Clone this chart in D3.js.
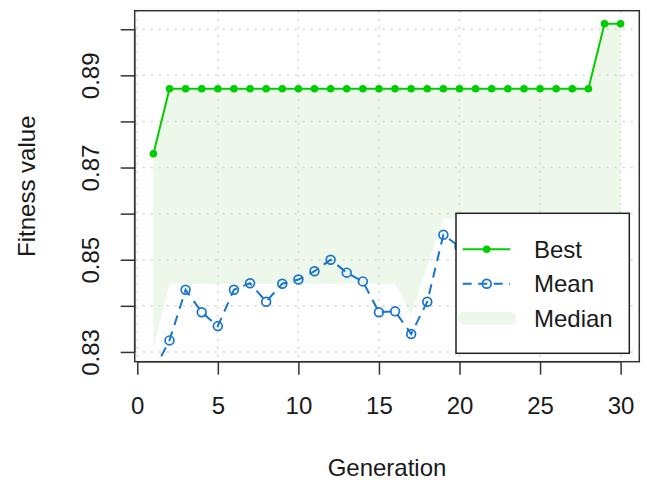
<!DOCTYPE html>
<html lang="en">
<head>
    <meta charset="UTF-8">
    <title>GA fitness by generation</title>
    <script src="https://d3js.org/d3.v7.min.js" charset="utf-8"></script>
    <style>
        body, html {
            margin: 0;
            padding: 0;
            background: #fff;
            overflow: hidden;
        }
        text {
            font-family: "Liberation Sans", Arial, sans-serif;
            fill: #1a1a1a;
        }
    </style>
</head>
<body>
    <svg id="chart"></svg>

    <script>
        // data
        const generation = [1, 2, 3, 4, 5, 6, 7, 8, 9, 10, 11, 12, 13, 14, 15,
                            16, 17, 18, 19, 20, 21, 22, 23, 24, 25, 26, 27, 28, 29, 30];
        const best = [0.8730, 0.8871, 0.8871, 0.8871, 0.8871, 0.8871, 0.8871, 0.8871, 0.8871, 0.8871,
                      0.8871, 0.8871, 0.8871, 0.8871, 0.8871, 0.8871, 0.8871, 0.8871, 0.8871, 0.8871,
                      0.8871, 0.8871, 0.8871, 0.8871, 0.8871, 0.8871, 0.8871, 0.8871, 0.9012, 0.9012];
        const mean = [0.8258, 0.8325, 0.8435, 0.8386, 0.8356, 0.8435, 0.8449, 0.8409, 0.8448, 0.8457,
                      0.8475, 0.8500, 0.8472, 0.8453, 0.8386, 0.8388, 0.8339, 0.8409, 0.8554, 0.8528,
                      0.8532, 0.8545, 0.8521, 0.8538, 0.8550, 0.8529, 0.8541, 0.8535, 0.8562, 0.8548];
        const median = [0.8307, 0.8448, 0.8448, 0.8448, 0.8448, 0.8448, 0.8448, 0.8448, 0.8448, 0.8448,
                        0.8448, 0.8448, 0.8448, 0.8448, 0.8448, 0.8448, 0.8379, 0.8485, 0.8589, 0.8589,
                        0.8589, 0.8589, 0.8589, 0.8589, 0.8589, 0.8589, 0.8589, 0.8589, 0.8589, 0.8589];
        const xTicks = [0, 5, 10, 15, 20, 25, 30];
        const yTicks = [0.83, 0.84, 0.85, 0.86, 0.87, 0.88, 0.89, 0.90];
        const yLabels = [0.83, 0.85, 0.87, 0.89];
        const legendNames = ['Best', 'Mean', 'Median'];

        const width = 647;
        const height = 480;
        const margin = {top: 10.7, right: 7.7, bottom: 118.3, left: 134.7};

        const green = '#00cd00';
        const blue = '#1874cd';
        const bandColor = '#edf8eb';

        const svg = d3.select('#chart')
            .attr('width', width)
            .attr('height', height);

        // R style 4% axis extension
        const xPad = 0.04 * (d3.max(generation) - d3.min(generation));
        const xScale = d3.scaleLinear()
            .domain([d3.min(generation) - xPad, d3.max(generation) + xPad])
            .range([margin.left, width - margin.right]);

        const yLo = d3.min(median), yHi = d3.max(best);
        const yPad = 0.04 * (yHi - yLo);
        const yScale = d3.scaleLinear()
            .domain([yLo - yPad, yHi + yPad])
            .range([height - margin.bottom, margin.top]);

        const rows = generation.map((g, i) => ({g: g, best: best[i], mean: mean[i], median: median[i]}));

        svg.append('clipPath').attr('id', 'plotClip')
            .append('rect')
            .attr('x', margin.left).attr('y', margin.top)
            .attr('width', width - margin.left - margin.right)
            .attr('height', height - margin.top - margin.bottom);

        const plot = svg.append('g').attr('clip-path', 'url(#plotClip)');

        // band between median and best
        const band = d3.area()
            .x(d => xScale(d.g))
            .y0(d => yScale(d.median))
            .y1(d => yScale(d.best));

        plot.append('path')
            .datum(rows)
            .attr('d', band)
            .attr('fill', bandColor);

        // dotted grid
        plot.selectAll('.vgrid')
            .data(xTicks)
            .join('line')
            .attr('x1', d => xScale(d)).attr('x2', d => xScale(d))
            .attr('y1', margin.top).attr('y2', height - margin.bottom)
            .attr('stroke', '#d3d3d3')
            .attr('stroke-width', 1.5)
            .attr('stroke-dasharray', '2,6');

        plot.selectAll('.hgrid')
            .data(yTicks)
            .join('line')
            .attr('y1', d => yScale(d)).attr('y2', d => yScale(d))
            .attr('x1', margin.left).attr('x2', width - margin.right)
            .attr('stroke', '#d3d3d3')
            .attr('stroke-width', 1.5)
            .attr('stroke-dasharray', '2,6');

        // best line
        const bestLine = d3.line().x(d => xScale(d.g)).y(d => yScale(d.best));
        plot.append('path')
            .datum(rows)
            .attr('d', bestLine)
            .attr('fill', 'none')
            .attr('stroke', green)
            .attr('stroke-width', 2);

        plot.selectAll('.bestPt')
            .data(rows)
            .join('circle')
            .attr('cx', d => xScale(d.g))
            .attr('cy', d => yScale(d.best))
            .attr('r', 3.8)
            .attr('fill', green);

        // mean line (dashed, open circles)
        const meanLine = d3.line().x(d => xScale(d.g)).y(d => yScale(d.mean));
        plot.append('path')
            .datum(rows)
            .attr('d', meanLine)
            .attr('fill', 'none')
            .attr('stroke', blue)
            .attr('stroke-width', 2)
            .attr('stroke-dasharray', '10,7');

        plot.selectAll('.meanPt')
            .data(rows)
            .join('circle')
            .attr('cx', d => xScale(d.g))
            .attr('cy', d => yScale(d.mean))
            .attr('r', 4.4)
            .attr('fill', 'none')
            .attr('stroke', blue)
            .attr('stroke-width', 1.7);

        // box
        svg.append('rect')
            .attr('x', margin.left).attr('y', margin.top)
            .attr('width', width - margin.left - margin.right)
            .attr('height', height - margin.top - margin.bottom)
            .attr('fill', 'none')
            .attr('stroke', '#333')
            .attr('stroke-width', 1.5);

        // x axis
        const xAxis = d3.axisBottom(xScale)
            .tickValues(xTicks)
            .tickSize(13)
            .tickPadding(22)
            .tickFormat(d3.format('d'));

        const xAxisGroup = svg.append('g')
            .attr('transform', `translate(0,${height - margin.bottom})`)
            .call(xAxis);
        xAxisGroup.select('.domain')
            .attr('d', `M${xScale(0)},0H${xScale(30)}`)
            .attr('stroke', '#333').attr('stroke-width', 1.5);
        xAxisGroup.selectAll('.tick line').attr('stroke', '#333').attr('stroke-width', 1.5);
        xAxisGroup.selectAll('.tick text')
            .style('font-size', '24px')
            .attr('font-family', null)
            .attr('fill', '#1a1a1a');

        // y axis
        const yAxis = d3.axisLeft(yScale)
            .tickValues(yTicks)
            .tickSize(14)
            .tickFormat(d => yLabels.some(v => Math.abs(v - d) < 1e-9) ? d3.format('.2f')(d) : '');

        const yAxisGroup = svg.append('g')
            .attr('transform', `translate(${margin.left},0)`)
            .call(yAxis);
        yAxisGroup.select('.domain')
            .attr('d', `M0,${yScale(0.83)}V${yScale(0.90)}`)
            .attr('stroke', '#333').attr('stroke-width', 1.5);
        yAxisGroup.selectAll('.tick line').attr('stroke', '#333').attr('stroke-width', 1.5);
        yAxisGroup.selectAll('.tick text')
            .attr('x', null).attr('dy', null)
            .attr('text-anchor', 'middle')
            .attr('transform', 'translate(-36,0) rotate(-90)')
            .attr('y', 0)
            .style('font-size', '24px')
            .attr('font-family', null)
            .attr('fill', '#1a1a1a');

        // axis titles
        svg.append('text')
            .attr('x', (margin.left + width - margin.right) / 2)
            .attr('y', 476)
            .attr('text-anchor', 'middle')
            .style('font-size', '24px')
            .text('Generation');

        svg.append('text')
            .attr('transform', `translate(35,${(margin.top + height - margin.bottom) / 2}) rotate(-90)`)
            .attr('text-anchor', 'middle')
            .style('font-size', '24px')
            .text('Fitness value');

        // legend
        const legend = svg.append('g')
            .attr('transform', 'translate(456,213.3)');

        legend.append('rect')
            .attr('width', 173.3)
            .attr('height', 140)
            .attr('fill', '#fff')
            .attr('stroke', '#222')
            .attr('stroke-width', 1.5);

        const rowY = i => 36 + i * 34.5;

        // Best
        legend.append('line')
            .attr('x1', 6.7).attr('x2', 54).attr('y1', rowY(0)).attr('y2', rowY(0))
            .attr('stroke', green).attr('stroke-width', 2);
        legend.append('circle')
            .attr('cx', 30.7).attr('cy', rowY(0)).attr('r', 3.8).attr('fill', green);

        // Mean
        legend.append('line')
            .attr('x1', 6.7).attr('x2', 54).attr('y1', rowY(1)).attr('y2', rowY(1))
            .attr('stroke', blue).attr('stroke-width', 2)
            .attr('stroke-dasharray', '9,6.5');
        legend.append('circle')
            .attr('cx', 30.7).attr('cy', rowY(1)).attr('r', 4.4)
            .attr('fill', 'none').attr('stroke', blue).attr('stroke-width', 1.7);

        // Median
        legend.append('line')
            .attr('x1', 8).attr('x2', 54).attr('y1', rowY(2)).attr('y2', rowY(2))
            .attr('stroke', bandColor)
            .attr('stroke-width', 13).attr('stroke-linecap', 'round');

        legend.selectAll('.legText')
            .data(legendNames)
            .join('text')
            .attr('x', 78)
            .attr('y', (d, i) => rowY(i) + 8.6)
            .style('font-size', '24px')
            .text(d => d);
    </script>
</body>
</html>
